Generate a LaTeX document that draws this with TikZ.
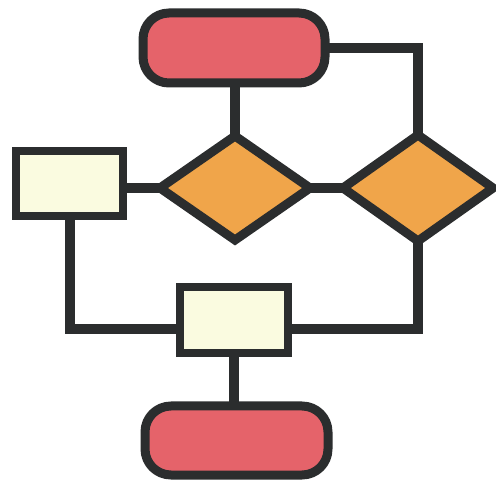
\documentclass[tikz,border=0pt]{standalone}
\usetikzlibrary{shapes.geometric,backgrounds}
\definecolor{termred}{HTML}{E5636A}
\definecolor{decor}{HTML}{F0A54A}
\definecolor{procream}{HTML}{FAFBE0}
\definecolor{ink}{HTML}{2B2D2E}
\tikzset{
  base/.style={draw=ink, line width=9pt, inner sep=0pt, outer sep=0pt},
  term/.style={base, fill=termred, rounded corners=26pt, rectangle},
  proc/.style={base, fill=procream, rectangle, line width=8pt},
  dec/.style={base, fill=decor, diamond, line join=miter},
  conn/.style={draw=ink, line width=10pt}
}
\begin{document}
\begin{tikzpicture}[x=1pt,y=-1pt]
\useasboundingbox (0,0) rectangle (496,481);
\node[term, minimum width=182pt, minimum height=70pt] (top) at (234,48) {};
\node[dec, minimum width=150pt, minimum height=104pt] (ld) at (235,188) {};
\node[dec, minimum width=150pt, minimum height=106pt] (rd) at (418,188) {};
\node[proc, minimum width=107pt, minimum height=65pt] (lr) at (69.5,183.5) {};
\node[proc, minimum width=108pt, minimum height=66pt] (mr) at (234,320) {};
\node[term, minimum width=183pt, minimum height=69pt] (bot) at (236.5,440.5) {};
\begin{scope}[on background layer]
\draw[conn] (top.east) -| (rd.north);
\draw[conn] (ld.north) -- (ld.north |- top.south);
\draw[conn] (lr.east |- ld.west) -- (ld.west);
\draw[conn] (ld.east) -- (rd.west);
\draw[conn] (lr.south) |- ([yshift=-9pt]mr.west);
\draw[conn] (rd.south) |- ([yshift=-9pt]mr.east);
\draw[conn] (mr.south) -- (mr.south |- bot.north);
\end{scope}
\end{tikzpicture}
\end{document}
